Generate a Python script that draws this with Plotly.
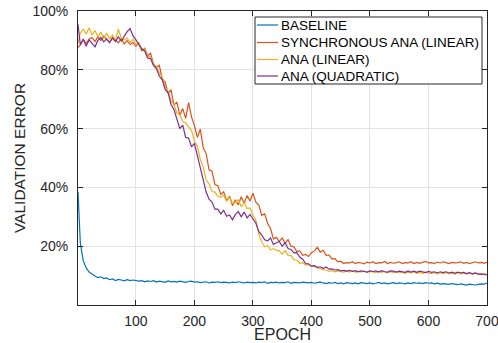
import plotly.graph_objects as go

epochs = [1] + list(range(5, 701, 5))

baseline = [
    38.5,
    21.0, 15.0, 12.6, 11.2, 10.4, 9.9, 9.3, 9.6, 9.0, 9.2,
    8.6, 8.9, 8.3, 8.7, 8.5, 8.2, 8.6, 8.3, 8.5, 8.4,
    8.1, 8.3, 7.9, 8.2, 8.0, 8.3, 7.8, 8.1, 8.0, 7.7,
    8.2, 7.9, 8.0, 7.8, 8.1, 7.9, 7.7, 8.0, 8.1, 7.8,
    7.9, 7.6, 7.8, 7.9, 7.5, 7.8, 7.7, 7.9, 7.6, 7.8,
    7.7, 7.5, 7.8, 7.6, 7.9, 7.7, 7.5, 7.8, 7.6, 7.7,
    7.5, 7.8, 7.6, 7.9, 7.4, 7.7, 7.6, 7.8, 7.5, 7.7,
    7.6, 7.9, 7.4, 7.7, 7.6, 7.5, 7.8, 7.6, 7.5, 7.7,
    7.4, 7.6, 7.8, 7.5, 7.3, 7.6, 7.4, 7.7, 7.3, 7.5,
    7.2, 7.6, 7.4, 7.3, 7.5, 7.2, 7.6, 7.4, 7.3, 7.5,
    7.2, 7.4, 7.7, 7.3, 7.5, 7.2, 7.4, 7.6, 7.3, 7.5,
    7.4, 7.2, 7.5, 7.3, 7.6, 7.4, 7.5, 7.3, 7.6, 7.4,
    7.5, 7.2, 7.4, 7.1, 7.3, 7.2, 7.0, 7.3, 7.1, 6.9,
    7.2, 7.0, 6.8, 7.1, 6.9, 6.8, 7.0, 7.2, 7.1, 7.4,
]

sync_ana_linear = [
    87.5,
    88.5, 90.2, 89.0, 90.5, 91.0, 89.6, 91.2, 90.0, 91.5, 90.3,
    89.4, 91.0, 90.1, 89.2, 90.6, 88.8, 89.9, 88.6, 89.3, 88.0,
    89.2, 86.5, 87.3, 84.8, 85.6, 82.0, 80.8, 81.5, 76.8, 75.8,
    72.0, 73.2, 68.0, 69.0, 64.5, 66.8, 63.5, 68.8, 64.0, 61.0,
    57.0, 59.8, 53.5, 51.5, 46.0, 45.5, 41.0, 40.6, 37.6, 38.5,
    35.6, 37.0, 33.8, 35.8, 34.0, 36.8, 34.6, 37.2, 35.4, 38.0,
    35.0, 34.0, 30.5, 31.0, 27.8, 26.0, 22.5, 23.0, 21.6, 22.8,
    21.0, 22.2, 20.0, 19.8, 18.2, 18.4, 16.9, 17.2, 16.5, 17.8,
    18.4, 19.6, 18.0, 18.6, 16.9, 17.0, 15.7, 15.8, 14.7, 14.9,
    14.1, 14.4, 14.3, 14.7, 14.1, 14.5, 14.3, 14.0, 14.6, 14.3,
    14.7, 14.1, 14.4, 14.3, 14.8, 14.1, 14.5, 14.2, 14.4, 14.7,
    14.1, 14.4, 14.3, 14.7, 14.1, 14.5, 14.2, 14.4, 14.8, 14.3,
    14.4, 14.1, 14.6, 14.3, 14.7, 14.4, 14.1, 14.5, 14.3, 14.4,
    14.7, 14.2, 14.5, 14.1, 14.4, 14.7, 14.3, 14.5, 14.2, 14.6,
]

ana_linear = [
    89.0,
    92.5, 93.8, 92.2, 94.3, 91.8, 93.4, 91.2, 92.9, 90.6, 92.4,
    90.6, 91.8, 90.2, 93.8, 90.6, 90.2, 90.8, 89.2, 90.4, 88.6,
    89.0, 87.2, 87.0, 84.6, 84.4, 81.8, 81.2, 78.8, 77.6, 74.0,
    72.8, 69.4, 68.2, 65.2, 64.8, 62.4, 62.0, 60.5, 59.4, 55.8,
    54.0, 49.5, 47.0, 42.5, 41.2, 38.6, 38.4, 37.0, 36.6, 37.4,
    35.2, 36.8, 34.6, 34.8, 35.8, 33.4, 34.9, 32.8, 33.0, 30.6,
    28.8, 24.2, 21.4, 19.8, 20.2, 18.8, 19.2, 18.6, 18.4, 17.3,
    18.5, 16.9, 16.8, 15.4, 15.3, 14.2, 14.4, 13.6, 13.8, 13.1,
    13.2, 12.5, 12.4, 11.9, 11.9, 11.4, 11.7, 11.3, 11.6, 11.3,
    11.2, 11.6, 11.2, 11.7, 11.1, 11.5, 11.2, 11.6, 11.1, 11.4,
    11.3, 11.0, 11.5, 11.1, 11.4, 10.9, 11.3, 11.0, 11.3, 10.9,
    11.2, 10.8, 11.2, 10.9, 11.3, 10.8, 11.1, 10.7, 11.2, 10.8,
    10.7, 11.1, 10.6, 11.0, 10.7, 11.1, 10.6, 10.9, 10.5, 11.0,
    10.6, 10.9, 10.5, 10.9, 10.4, 10.8, 10.5, 10.3, 10.7, 10.4,
]

ana_quadratic = [
    95.5,
    88.5, 90.5, 88.0, 90.2, 89.0, 87.8, 90.0, 91.0, 89.5, 90.5,
    89.2, 90.8, 89.6, 91.2, 89.8, 91.5, 93.0, 94.0, 91.5, 90.2,
    88.8, 87.0, 86.4, 84.0, 83.8, 81.4, 80.4, 77.8, 76.6, 73.2,
    72.2, 68.2, 66.5, 62.8, 60.0, 61.2, 57.0, 56.8, 53.8, 55.0,
    51.0, 46.5, 42.0, 38.4, 36.0, 35.0, 32.6, 32.6, 31.0, 32.2,
    30.2, 30.6, 29.0, 30.8, 31.8, 30.0, 31.6, 29.6, 30.8, 29.2,
    27.8, 25.0, 23.8, 22.2, 21.8, 22.8, 20.6, 21.2, 21.6, 20.0,
    21.2, 19.2, 18.9, 17.7, 17.8, 16.3, 15.6, 14.1, 14.0, 13.2,
    13.4, 12.8, 13.0, 12.4, 12.9, 12.2, 12.3, 11.9, 12.0, 11.6,
    11.8, 11.5, 11.8, 11.4, 11.7, 11.3, 11.6, 11.4, 11.2, 11.6,
    11.4, 11.6, 11.2, 11.7, 11.3, 11.2, 11.6, 11.5, 11.2, 11.5,
    11.3, 11.1, 11.6, 11.2, 11.5, 11.1, 11.5, 11.2, 11.0, 11.4,
    11.1, 11.3, 10.9, 11.3, 11.0, 11.3, 10.9, 11.2, 10.8, 11.2,
    10.9, 11.1, 10.7, 11.0, 10.6, 10.9, 10.5, 10.6, 10.3, 10.2,
]

names = ["BASELINE", "SYNCHRONOUS ANA (LINEAR)", "ANA (LINEAR)", "ANA (QUADRATIC)"]
colors = ["#0072BD", "#D95319", "#EDB120", "#7E2F8E"]
series = [baseline, sync_ana_linear, ana_linear, ana_quadratic]

x_ticks = [100, 200, 300, 400, 500, 600, 700]
y_ticks = [20, 40, 60, 80, 100]
y_tick_labels = ["20%", "40%", "60%", "80%", "100%"]

FONT = "Liberation Sans, Arial, Helvetica, sans-serif"

fig = go.Figure()
for name, col, vals in zip(names, colors, series):
    fig.add_trace(go.Scatter(x=epochs, y=vals, mode="lines", name=name,
                             line=dict(color=col, width=1.2), showlegend=False))

axis_common = dict(
    showgrid=True, gridcolor="#E3E3E3", gridwidth=1,
    showline=True, linecolor="#262626", linewidth=1, mirror="ticks",
    ticks="inside", ticklen=5, tickcolor="#262626",
    tickfont=dict(family=FONT, size=14, color="#262626"),
    zeroline=False, automargin=False, ticklabeloverflow="allow",
)

# plot area geometry in pixels (for the hand-made legend box)
L, R, T, B = 78, 487, 11, 305
def px_x(px):
    return (px - L) / (R - L)
def px_y(py):
    return (B - py) / (B - T)

shapes = [dict(type="rect", xref="paper", yref="paper",
               x0=px_x(255), x1=px_x(482), y0=px_y(84), y1=px_y(17),
               line=dict(color="#262626", width=1), fillcolor="white", layer="above")]
annotations = []
row_y = [25, 42.5, 59.5, 76]
for name, col, ry in zip(names, colors, row_y):
    shapes.append(dict(type="line", xref="paper", yref="paper",
                       x0=px_x(257), x1=px_x(278), y0=px_y(ry), y1=px_y(ry),
                       line=dict(color=col, width=1.2), layer="above"))
    annotations.append(dict(xref="paper", yref="paper", x=px_x(279), y=px_y(ry),
                            xanchor="left", yanchor="middle", showarrow=False,
                            text=name, font=dict(family=FONT, size=13.5, color="black")))

fig.update_layout(
    width=498, height=343,
    margin=dict(l=L, r=498 - R, t=T, b=343 - B),
    paper_bgcolor="white", plot_bgcolor="white",
    font=dict(family=FONT, color="#262626"),
    xaxis=dict(range=[1, 700], tickvals=x_ticks, ticklabelstandoff=3,
               title=dict(text="EPOCH", font=dict(size=16, color="#262626"), standoff=1),
               **axis_common),
    yaxis=dict(range=[0, 100], tickvals=y_ticks, ticktext=y_tick_labels, ticklabelstandoff=6,
               title=dict(text="VALIDATION ERROR", font=dict(size=15.5, color="#262626"), standoff=2),
               **axis_common),
    shapes=shapes,
    annotations=annotations,
    showlegend=False,
)

fig.write_html("out.html", config={"displayModeBar": False},
               post_script="document.body.style.margin='0';document.body.style.overflow='hidden';")
